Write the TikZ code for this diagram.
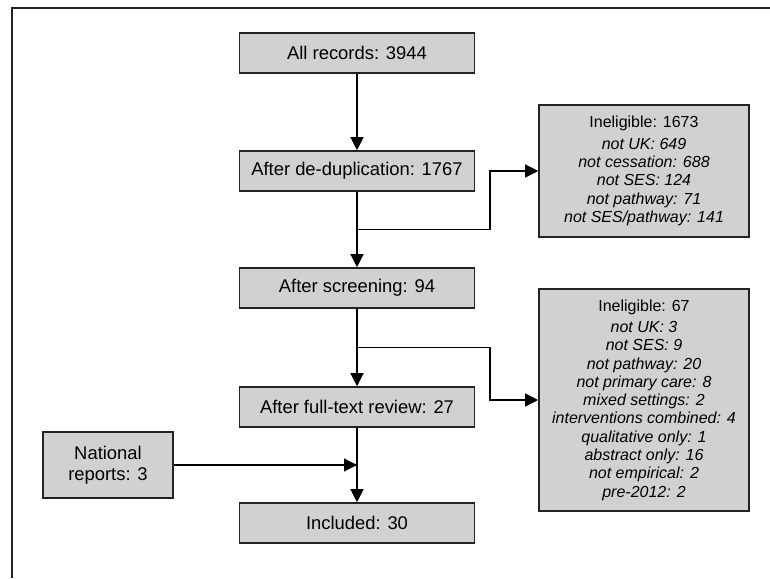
\documentclass[tikz,border=0pt]{standalone}
\usepackage{fontspec}
\setmainfont{Liberation Sans}
\usetikzlibrary{arrows.meta,calc}
\definecolor{boxgray}{RGB}{209,209,209}
\definecolor{linegray}{RGB}{35,35,35}
\begin{document}
\begin{tikzpicture}[x=1pt,y=-1pt,
	stage/.style={draw=linegray, line width=1.6pt, fill=boxgray, minimum width=235pt, minimum height=40pt, inner sep=0pt, align=center, font=\fontsize{18.4}{21}\selectfont},
	excl/.style={draw=linegray, line width=1.6pt, fill=boxgray, minimum width=210pt, inner sep=0pt, align=center, font=\fontsize{16}{18.3}\selectfont},
	arr/.style={draw=black, line width=1.3pt, -{Triangle[length=13pt,width=13pt]}}]
	\useasboundingbox (0,0) rectangle (770,578);
	\draw[line width=1.6pt, linegray] (12,578) -- (12,8) -- (770,8);
	\node[stage] (all) at (357,53) {All records: 3944};
	\node[stage] (dedup) at (357,171) {After de-duplication: 1767};
	\node[stage] (screen) at (357,288) {After screening: 94};
	\node[stage] (fulltext) at (357,407) {After full-text review: 27};
	\node[stage] (incl) at (357,523) {Included: 30};
	\node[stage, minimum width=130pt, minimum height=66pt] (natl) at (108,465) {National\\reports: 3};
	\node[excl, minimum height=132pt] (inel1) at (644,171) {Ineligible: 1673\\[3pt]
		\textit{not UK: 649}\\ \textit{not cessation: 688}\\ \textit{not SES: 124}\\
		\textit{not pathway: 71}\\ \textit{not SES/pathway: 141}};
	\node[excl, minimum height=222pt] (inel2) at (644,400) {Ineligible: 67\\[3pt]
		\textit{not UK: 3}\\ \textit{not SES: 9}\\ \textit{not pathway: 20}\\
		\textit{not primary care: 8}\\ \textit{mixed settings: 2}\\ \textit{interventions combined: 4}\\
		\textit{qualitative only: 1}\\ \textit{abstract only: 16}\\ \textit{not empirical: 2}\\ \textit{pre-2012: 2}};
	\coordinate (b1) at ($(dedup.south)!0.5!(screen.north)$);
	\coordinate (b2) at ($(screen.south)!0.5!(fulltext.north)$);
	\draw[arr] (all) -- (dedup);
	\draw[arr] (dedup) -- (screen);
	\draw[arr] (b1) -- ++(133,0) |- (inel1.west);
	\draw[arr] (screen) -- (fulltext);
	\draw[arr] (b2) -- ++(133,0) |- (inel2.west);
	\draw[arr] (fulltext) -- (incl);
	\draw[arr] (natl.east) -- (natl.east -| fulltext.south);
\end{tikzpicture}
\end{document}
